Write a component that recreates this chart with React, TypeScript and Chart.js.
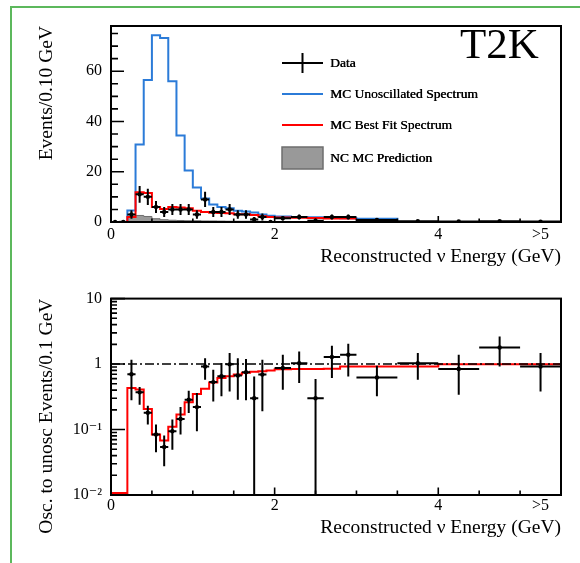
import React, { useEffect, useRef } from "react";
import { Chart, registerables } from "chart.js";

Chart.register(...registerables);

// ---- Binning (GeV) ----
const binEdges = [
  0, 0.1, 0.2, 0.3, 0.4, 0.5, 0.6, 0.7, 0.8, 0.9, 1.0, 1.1, 1.2, 1.3, 1.4, 1.5,
  1.6, 1.7, 1.8, 1.9, 2.0, 2.2, 2.4, 2.6, 2.8, 3.0, 3.5, 4.0, 4.5, 5.0, 5.5,
];

// ---- Top panel: events / 0.10 GeV ----
const unoscMC = [
  0, 0, 4.6, 30.8, 56.5, 74.3, 73.2, 56.0, 34.4, 20.5, 13.7, 9.4, 7.0, 6.0, 5.5,
  4.5, 4.2, 3.8, 3.0, 2.5, 2.2, 2.0, 1.9, 1.7, 1.5, 1.3, 0, 0, 0, 0,
];
const bestFitMC = [
  0, 0, 2.0, 11.8, 11.5, 6.0, 5.2, 6.0, 5.8, 5.5, 4.5, 4.0, 3.7, 3.6, 3.5, 3.1,
  3.1, 2.8, 2.3, 2.0, 1.8, 1.7, 1.6, 1.4, 1.4, null, null, null, null, null,
];
const ncMC = [
  0, 0.3, 1.8, 2.6, 2.2, 1.3, 0.9, 0.7, 0.6, 0.5, 0.5, 0.4, 0.4, 0.35, 0.3, 0.3,
  0.3, 0.25, 0.25, 0.2, 0.2, 0.15, 0.15, 0.1, 0.1, 0.1, 0, 0, 0, 0,
];
const dataEvents = [
  0, 0, 3, 11, 10, 6, 4, 5, 5, 5, 3, 9, 4, 4, 5, 3, 3, 1, 2, 0, 1.5, 2, 0.5, 2,
  2, 0.8, 0.3, 0.2, 0.3, 0.15,
];
const dataErr = [
  0, 0, 1.7, 3.3, 3.2, 2.4, 2.0, 2.2, 2.2, 2.2, 1.7, 3.0, 2.0, 2.0, 2.2, 1.7,
  1.7, 1.0, 1.4, 0, 0.9, 1.0, 0.5, 1.0, 1.0, 0.4, 0.25, 0.2, 0.25, 0.15,
];

// ---- Bottom panel: oscillated / unoscillated ----
const ratioMC = [
  0.0107, 0.0107, 0.43, 0.41, 0.206, 0.084, 0.068, 0.11, 0.169, 0.26, 0.35,
  0.42, 0.525, 0.61, 0.65, 0.69, 0.74, 0.76, 0.78, 0.8, 0.83, 0.84, 0.84, 0.85,
  0.92, 0.92, 0.92, 0.99, 0.99, 0.99,
];
const ratioData = [
  null, null, 0.7, 0.37, 0.18, 0.084, 0.054, 0.094, 0.145, 0.286, 0.22, 0.92,
  0.53, 0.65, 0.99, 0.67, 0.75, 0.3, 0.69, null, 0.87, 1.03, 0.3, 1.28, 1.39,
  0.625, 1.03, 0.84, 1.79, 0.92,
];
const ratioLow = [
  null, null, 0.28, 0.24, 0.119, 0.045, 0.0275, 0.049, 0.084, 0.179, 0.094,
  0.576, 0.269, 0.321, 0.382, 0.286, 0.279, 0.005, 0.19, null, 0.406, 0.513,
  0.005, 0.61, 0.647, 0.321, 0.576, 0.34, 0.92, 0.382,
];
const ratioHigh = [
  null, null, 1.16, 0.446, 0.231, 0.119, 0.081, 0.142, 0.221, 0.392, 0.361,
  1.23, 0.82, 1.035, 1.47, 1.23, 1.19, 0.647, 1.16, null, 1.39, 1.56, 0.59, 1.9,
  2.04, 0.94, 1.47, 1.39, 2.63, 1.47,
];
const unityRatio = 1;

// ---- Axes ----
const xMin = 0;
const xMax = 5.5;
const xLabelValues = [0, 2, 4, 5.25];
const xLabelText = ["0", "2", "4", ">5"];
const xMajorTicks = [0, 2, 4];
const xMinorTicks = [0.5, 1, 1.5, 2.5, 3, 3.5, 4.5, 5];
const topYMax = 78;
const topYLabels = [0, 20, 40, 60];
const topYMinor = [5, 10, 15, 25, 30, 35, 45, 50, 55, 65, 70, 75];
const ratioYLabels = [0.01, 0.1, 1, 10];
const ratioYText = ["10\u207B\u00B2", "10\u207B\u00B9", "1", "10"];
const ratioYMinor = [
  0.02, 0.03, 0.04, 0.05, 0.06, 0.07, 0.08, 0.09, 0.2, 0.3, 0.4, 0.5, 0.6, 0.7,
  0.8, 0.9, 2, 3, 4, 5, 6, 7, 8, 9,
];

const SERIF = "'Liberation Serif', 'DejaVu Serif', 'Times New Roman', serif";
const BLUE = "#2b7bd8";
const RED = "#ff0000";

function histPoints(vals: (number | null)[]) {
  const pts: { x: number; y: number }[] = [];
  for (let i = 0; i < vals.length; i++) {
    const v = vals[i];
    if (v == null) continue;
    pts.push({ x: binEdges[i], y: v });
    if (i === vals.length - 1 || vals[i + 1] == null)
      pts.push({ x: binEdges[i + 1], y: v });
  }
  return pts;
}

function errPoints(
  vals: (number | null)[],
  lo: (number | null)[],
  hi: (number | null)[]
) {
  const pts: any[] = [];
  for (let i = 0; i < vals.length; i++) {
    const v = vals[i];
    if (v == null) continue;
    pts.push({
      x: (binEdges[i] + binEdges[i + 1]) / 2,
      y: v,
      xl: binEdges[i],
      xh: binEdges[i + 1],
      yl: lo[i],
      yh: hi[i],
    });
  }
  return pts;
}

const errorBarPlugin = {
  id: "errorBars",
  afterDatasetDraw(chart: any, args: any) {
    const ds = chart.data.datasets[args.index];
    if (!ds.errorBars) return;
    const { ctx, chartArea: a } = chart;
    const xs = chart.scales.x;
    const ys = chart.scales.y;
    ctx.save();
    ctx.beginPath();
    ctx.rect(a.left, a.top, a.right - a.left, a.bottom - a.top);
    ctx.clip();
    ctx.strokeStyle = "#000";
    ctx.lineWidth = 2;
    ctx.beginPath();
    for (const p of ds.data) {
      const px = xs.getPixelForValue(p.x);
      const py = ys.getPixelForValue(p.y);
      ctx.moveTo(xs.getPixelForValue(p.xl), py);
      ctx.lineTo(xs.getPixelForValue(p.xh), py);
      if (p.yl != null && p.yh != null && p.yh > p.yl) {
        const yl = Math.max(p.yl, ys.min * 0.5);
        ctx.moveTo(px, ys.getPixelForValue(yl));
        ctx.lineTo(px, ys.getPixelForValue(p.yh));
      }
    }
    ctx.stroke();
    ctx.restore();
  },
};

function framePlugin(cfg: {
  yMajor: number[];
  yMinor: number[];
  yMajLen: number;
  yMinLen: number;
  xMajLen: number;
  xMinLen: number;
}) {
  return {
    id: "rootFrame",
    afterDatasetsDraw(chart: any) {
      const { ctx, chartArea: a } = chart;
      const xs = chart.scales.x;
      const ys = chart.scales.y;
      ctx.save();
      ctx.strokeStyle = "#000";
      ctx.lineWidth = 1.6;
      ctx.beginPath();
      for (const v of xMajorTicks) {
        const px = xs.getPixelForValue(v);
        ctx.moveTo(px, a.bottom);
        ctx.lineTo(px, a.bottom - cfg.xMajLen);
      }
      for (const v of xMinorTicks) {
        const px = xs.getPixelForValue(v);
        ctx.moveTo(px, a.bottom);
        ctx.lineTo(px, a.bottom - cfg.xMinLen);
      }
      for (const v of cfg.yMajor) {
        const py = ys.getPixelForValue(v);
        ctx.moveTo(a.left, py);
        ctx.lineTo(a.left + cfg.yMajLen, py);
      }
      for (const v of cfg.yMinor) {
        const py = ys.getPixelForValue(v);
        ctx.moveTo(a.left, py);
        ctx.lineTo(a.left + cfg.yMinLen, py);
      }
      ctx.stroke();
      ctx.lineWidth = 2;
      ctx.strokeRect(a.left, a.top, a.right - a.left, a.bottom - a.top);
      ctx.restore();
    },
  };
}

const legendPlugin = {
  id: "t2kLegend",
  afterDatasetsDraw(chart: any) {
    const { ctx, chartArea: a } = chart;
    const lx = a.left + 171;
    const lw = 41;
    const tx = a.left + 219;
    const rows = [a.top + 37, a.top + 68, a.top + 99, a.top + 132];
    ctx.save();
    ctx.lineWidth = 2;
    // Data
    ctx.strokeStyle = "#000";
    ctx.beginPath();
    ctx.moveTo(lx, rows[0]);
    ctx.lineTo(lx + lw, rows[0]);
    ctx.moveTo(lx + lw / 2, rows[0] - 10);
    ctx.lineTo(lx + lw / 2, rows[0] + 10);
    ctx.stroke();
    // Unosc
    ctx.strokeStyle = BLUE;
    ctx.beginPath();
    ctx.moveTo(lx, rows[1]);
    ctx.lineTo(lx + lw, rows[1]);
    ctx.stroke();
    // Best fit
    ctx.strokeStyle = RED;
    ctx.beginPath();
    ctx.moveTo(lx, rows[2]);
    ctx.lineTo(lx + lw, rows[2]);
    ctx.stroke();
    // NC
    ctx.fillStyle = "#999999";
    ctx.fillRect(lx, rows[3] - 11, lw, 22);
    ctx.strokeStyle = "#6e6e6e";
    ctx.lineWidth = 1.5;
    ctx.strokeRect(lx, rows[3] - 11, lw, 22);
    // Text
    ctx.fillStyle = "#000";
    ctx.font = `13.5px ${SERIF}`;
    ctx.textBaseline = "middle";
    ctx.textAlign = "left";
    const labels = [
      "Data",
      "MC Unoscillated Spectrum",
      "MC Best Fit Spectrum",
      "NC MC Prediction",
    ];
    labels.forEach((t, i) => {
      ctx.fillText(t, tx, rows[i]);
      ctx.fillText(t, tx + 0.4, rows[i]);
    });
    // T2K
    ctx.fillStyle = "#000";
    ctx.font = `43px ${SERIF}`;
    ctx.textBaseline = "alphabetic";
    ctx.fillText("T2K", a.left + 349, a.top + 32);
    ctx.restore();
  },
};

function xScale(titlePadBottom: number, height: number, labelPad: number) {
  return {
    type: "linear",
    min: xMin,
    max: xMax,
    grid: { display: false, drawTicks: false },
    border: { display: false },
    afterBuildTicks: (s: any) => {
      s.ticks = xLabelValues.map((v) => ({ value: v }));
    },
    afterFit: (s: any) => {
      s.height = height;
    },
    ticks: {
      autoSkip: false,
      maxRotation: 0,
      padding: labelPad,
      color: "#000",
      font: { family: SERIF, size: 16 },
      callback: (v: number) => {
        const i = xLabelValues.indexOf(v);
        return i >= 0 ? xLabelText[i] : "";
      },
    },
    title: {
      display: true,
      text: "Reconstructed \u03BD Energy (GeV)",
      align: "end",
      color: "#000",
      font: { family: SERIF, size: 19.5 },
      padding: { top: 0, bottom: titlePadBottom },
    },
  };
}

export default function App() {
  const topRef = useRef<HTMLCanvasElement>(null);
  const botRef = useRef<HTMLCanvasElement>(null);

  useEffect(() => {
    const top = new Chart(topRef.current as HTMLCanvasElement, {
      type: "line",
      data: {
        datasets: [
          {
            label: "Data",
            data: errPoints(
              dataEvents,
              dataEvents.map((v, i) => v - dataErr[i]),
              dataEvents.map((v, i) => v + dataErr[i])
            ),
            showLine: false,
            pointRadius: 2.2,
            pointBackgroundColor: "#000",
            pointBorderWidth: 0,
            errorBars: true,
          } as any,
          {
            label: "MC Best Fit Spectrum",
            data: histPoints(bestFitMC),
            borderColor: RED,
            borderWidth: 2,
            stepped: "before",
            pointRadius: 0,
            fill: false,
          },
          {
            label: "MC Unoscillated Spectrum",
            data: histPoints(unoscMC),
            borderColor: BLUE,
            borderWidth: 2,
            stepped: "before",
            pointRadius: 0,
            fill: false,
          },
          {
            label: "NC MC Prediction",
            data: histPoints(ncMC),
            borderColor: "#6e6e6e",
            backgroundColor: "#999999",
            borderWidth: 1,
            stepped: "before",
            pointRadius: 0,
            fill: "origin",
          },
        ],
      },
      options: {
        animation: false,
        responsive: false,
        events: [],
        layout: { padding: { left: 0, right: 19, top: 26, bottom: 0 } },
        plugins: { legend: { display: false }, tooltip: { enabled: false } },
        scales: {
          x: xScale(11.6, 58, 3) as any,
          y: {
            type: "linear",
            min: 0,
            max: topYMax,
            grid: { display: false, drawTicks: false },
            border: { display: false },
            afterBuildTicks: (s: any) => {
              s.ticks = topYLabels.map((v) => ({ value: v }));
            },
            afterFit: (s: any) => {
              s.width = 111;
            },
            ticks: {
              padding: 9,
              color: "#000",
              font: { family: SERIF, size: 16 },
              callback: (v: number) => String(v),
            },
            title: {
              display: true,
              text: "Events/0.10 GeV",
              align: "end",
              color: "#000",
              font: { family: SERIF, size: 19.5 },
              padding: { top: 35, bottom: 0 },
            },
          } as any,
        },
      },
      plugins: [
        errorBarPlugin,
        framePlugin({
          yMajor: topYLabels,
          yMinor: topYMinor,
          yMajLen: 13,
          yMinLen: 7,
          xMajLen: 6,
          xMinLen: 3.5,
        }),
        legendPlugin,
      ],
    });

    const bot = new Chart(botRef.current as HTMLCanvasElement, {
      type: "line",
      data: {
        datasets: [
          {
            label: "Data ratio",
            data: errPoints(ratioData, ratioLow, ratioHigh),
            showLine: false,
            pointRadius: 2.2,
            pointBackgroundColor: "#000",
            pointBorderWidth: 0,
            errorBars: true,
          } as any,
          {
            label: "Unity",
            data: [
              { x: xMin, y: unityRatio },
              { x: xMax, y: unityRatio },
            ],
            borderColor: "#000",
            borderWidth: 1.5,
            borderDash: [9, 3, 2, 3],
            pointRadius: 0,
            fill: false,
          },
          {
            label: "MC ratio",
            data: histPoints(ratioMC),
            borderColor: RED,
            borderWidth: 2,
            stepped: "before",
            pointRadius: 0,
            fill: false,
          },
        ],
      },
      options: {
        animation: false,
        responsive: false,
        events: [],
        layout: { padding: { left: 0, right: 19, top: 18, bottom: 0 } },
        plugins: { legend: { display: false }, tooltip: { enabled: false } },
        scales: {
          x: xScale(23.3, 68, 1) as any,
          y: {
            type: "logarithmic",
            min: 0.01,
            max: 10,
            grid: { display: false, drawTicks: false },
            border: { display: false },
            afterBuildTicks: (s: any) => {
              s.ticks = ratioYLabels.map((v) => ({ value: v }));
            },
            afterFit: (s: any) => {
              s.width = 111;
            },
            ticks: {
              padding: 9,
              color: "#000",
              font: { family: SERIF, size: 16 },
              callback: (v: number) => {
                const i = ratioYLabels.indexOf(v);
                return i >= 0 ? ratioYText[i] : "";
              },
            },
            title: {
              display: true,
              text: "Osc. to unosc Events/0.1 GeV",
              align: "end",
              color: "#000",
              font: { family: SERIF, size: 19.5 },
              padding: { top: 35, bottom: 0 },
            },
          } as any,
        },
      },
      plugins: [
        errorBarPlugin,
        framePlugin({
          yMajor: ratioYLabels,
          yMinor: ratioYMinor,
          yMajLen: 14,
          yMinLen: 6,
          xMajLen: 7.5,
          xMinLen: 4.5,
        }),
      ],
    });

    return () => {
      top.destroy();
      bot.destroy();
    };
  }, []);

  return (
    <div
      style={{
        position: "fixed",
        left: 0,
        top: 0,
        width: 580,
        height: 563,
        background: "#fff",
        overflow: "hidden",
      }}
    >
      <div
        style={{
          position: "absolute",
          left: 10,
          top: 6,
          width: 620,
          height: 620,
          borderLeft: "2px solid #5cb85c",
          borderTop: "2px solid #5cb85c",
        }}
      />
      <canvas
        ref={topRef}
        width={580}
        height={280}
        style={{ position: "absolute", left: 0, top: 0, width: 580, height: 280 }}
      />
      <canvas
        ref={botRef}
        width={580}
        height={283}
        style={{ position: "absolute", left: 0, top: 280, width: 580, height: 283 }}
      />
    </div>
  );
}
